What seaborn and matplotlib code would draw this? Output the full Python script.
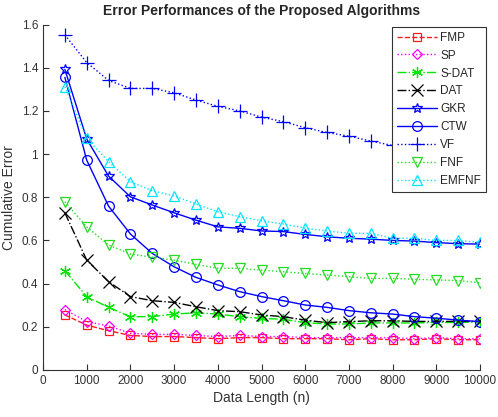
import numpy as np
import pandas as pd
import matplotlib
matplotlib.use("Agg")
import matplotlib.pyplot as plt
import seaborn as sns

x = [500, 1000, 1500, 2000, 2500, 3000, 3500, 4000, 4500, 5000,
     5500, 6000, 6500, 7000, 7500, 8000, 8500, 9000, 9500, 10000]

fmp = [0.255, 0.208, 0.182, 0.160, 0.155, 0.155, 0.150, 0.145, 0.150, 0.150,
       0.145, 0.145, 0.145, 0.140, 0.145, 0.140, 0.140, 0.145, 0.140, 0.140]
sp = [0.280, 0.224, 0.204, 0.170, 0.165, 0.165, 0.160, 0.155, 0.160, 0.155,
      0.155, 0.150, 0.150, 0.150, 0.150, 0.150, 0.145, 0.150, 0.145, 0.145]
sdat = [0.460, 0.340, 0.290, 0.247, 0.247, 0.259, 0.265, 0.259, 0.247, 0.239,
        0.235, 0.219, 0.213, 0.213, 0.218, 0.218, 0.218, 0.220, 0.220, 0.222]
dat = [0.728, 0.509, 0.409, 0.340, 0.321, 0.313, 0.293, 0.275, 0.270, 0.255,
       0.247, 0.231, 0.219, 0.224, 0.228, 0.228, 0.225, 0.225, 0.225, 0.225]
gkr = [1.392, 1.070, 0.898, 0.802, 0.764, 0.728, 0.694, 0.663, 0.656, 0.644,
       0.641, 0.628, 0.617, 0.610, 0.606, 0.600, 0.597, 0.590, 0.585, 0.583]
ctw = [1.355, 0.972, 0.759, 0.630, 0.540, 0.478, 0.429, 0.394, 0.363, 0.340,
       0.321, 0.301, 0.290, 0.275, 0.265, 0.259, 0.247, 0.240, 0.231, 0.224]
vf = [1.552, 1.424, 1.341, 1.304, 1.304, 1.284, 1.250, 1.221, 1.200, 1.171,
      1.150, 1.122, 1.100, 1.083, 1.060, 1.040, 1.020, 1.000, 0.990, 0.970]
fnf = [0.779, 0.663, 0.579, 0.537, 0.522, 0.509, 0.489, 0.471, 0.471, 0.463,
       0.455, 0.447, 0.440, 0.432, 0.424, 0.424, 0.420, 0.417, 0.414, 0.404]
emfnf = [1.312, 1.073, 0.965, 0.872, 0.830, 0.806, 0.769, 0.733, 0.710, 0.691,
         0.676, 0.657, 0.644, 0.633, 0.633, 0.610, 0.610, 0.600, 0.600, 0.591]

labels = ["FMP", "SP", "S-DAT", "DAT", "GKR", "CTW", "VF", "FNF", "EMFNF"]
series = [fmp, sp, sdat, dat, gkr, ctw, vf, fnf, emfnf]
colors = ["#ff1a1a", "#ff00ff", "#00e600", "#000000", "#0000ff", "#0000ff",
          "#0000ff", "#22dd22", "#00e5ff"]
styles = ["--", ":", "-.", "-.", "-", "-", ":", ":", ":"]
markers = ["s", "D", (6, 2, 0), "x", "*", "o", "+", "v", "^"]
msizes = [5.5, 5, 8, 9, 7, 7, 10, 7, 7]
filled = [False, False, True, True, False, False, True, False, False]

sns.set_style("white")
plt.rcParams["font.family"] = ["Liberation Sans", "DejaVu Sans"]

fig = plt.figure(figsize=(4.98, 4.17), dpi=100)
ax = fig.add_axes([43 / 498, 1 - 370 / 417, (480 - 43) / 498, (370 - 24.5) / 417])

for lab, ys, c, ls, m, ms, f in zip(labels, series, colors, styles, markers, msizes, filled):
    df = pd.DataFrame({"x": x, "y": ys})
    sns.lineplot(data=df, x="x", y="y", ax=ax, color=c, linestyle=ls, marker=m,
                 markersize=ms, markeredgecolor=c, markeredgewidth=0.9,
                 markerfacecolor=(c if f else "none"), linewidth=1.0, label=lab)

ax.set_xlim(0, 10000)
ax.set_ylim(0, 1.6)
ax.set_xticks(np.arange(0, 10001, 1000))
ax.set_yticks(np.arange(0, 1.61, 0.2))
ax.set_yticklabels(["0", "0.2", "0.4", "0.6", "0.8", "1", "1.2", "1.4", "1.6"])
ax.tick_params(direction="in", length=4, labelsize=8.5, colors="#333333",
               bottom=True, left=True)
for s in ["top", "right"]:
    ax.spines[s].set_visible(False)
for s in ["left", "bottom"]:
    ax.spines[s].set_color("#333333")
    ax.spines[s].set_linewidth(0.8)
ax.set_xlabel("Data Length (n)", fontsize=10, color="#333333", labelpad=3)
ax.set_ylabel("Cumulative Error", fontsize=10, color="#333333", labelpad=4)
ax.set_title("Error Performances of the Proposed Algorithms", fontsize=10,
             fontweight="bold", pad=7)

leg = ax.legend(loc="upper right", bbox_to_anchor=(486 / 498, 1 - 27 / 417),
                bbox_transform=fig.transFigure, fontsize=8.5, frameon=True,
                fancybox=False, edgecolor="#333333", framealpha=1,
                handlelength=3.4, handletextpad=0.3, labelspacing=0.5,
                borderpad=0.4, borderaxespad=0)
leg.get_frame().set_linewidth(0.8)

fig.savefig("out.png", dpi=100)
